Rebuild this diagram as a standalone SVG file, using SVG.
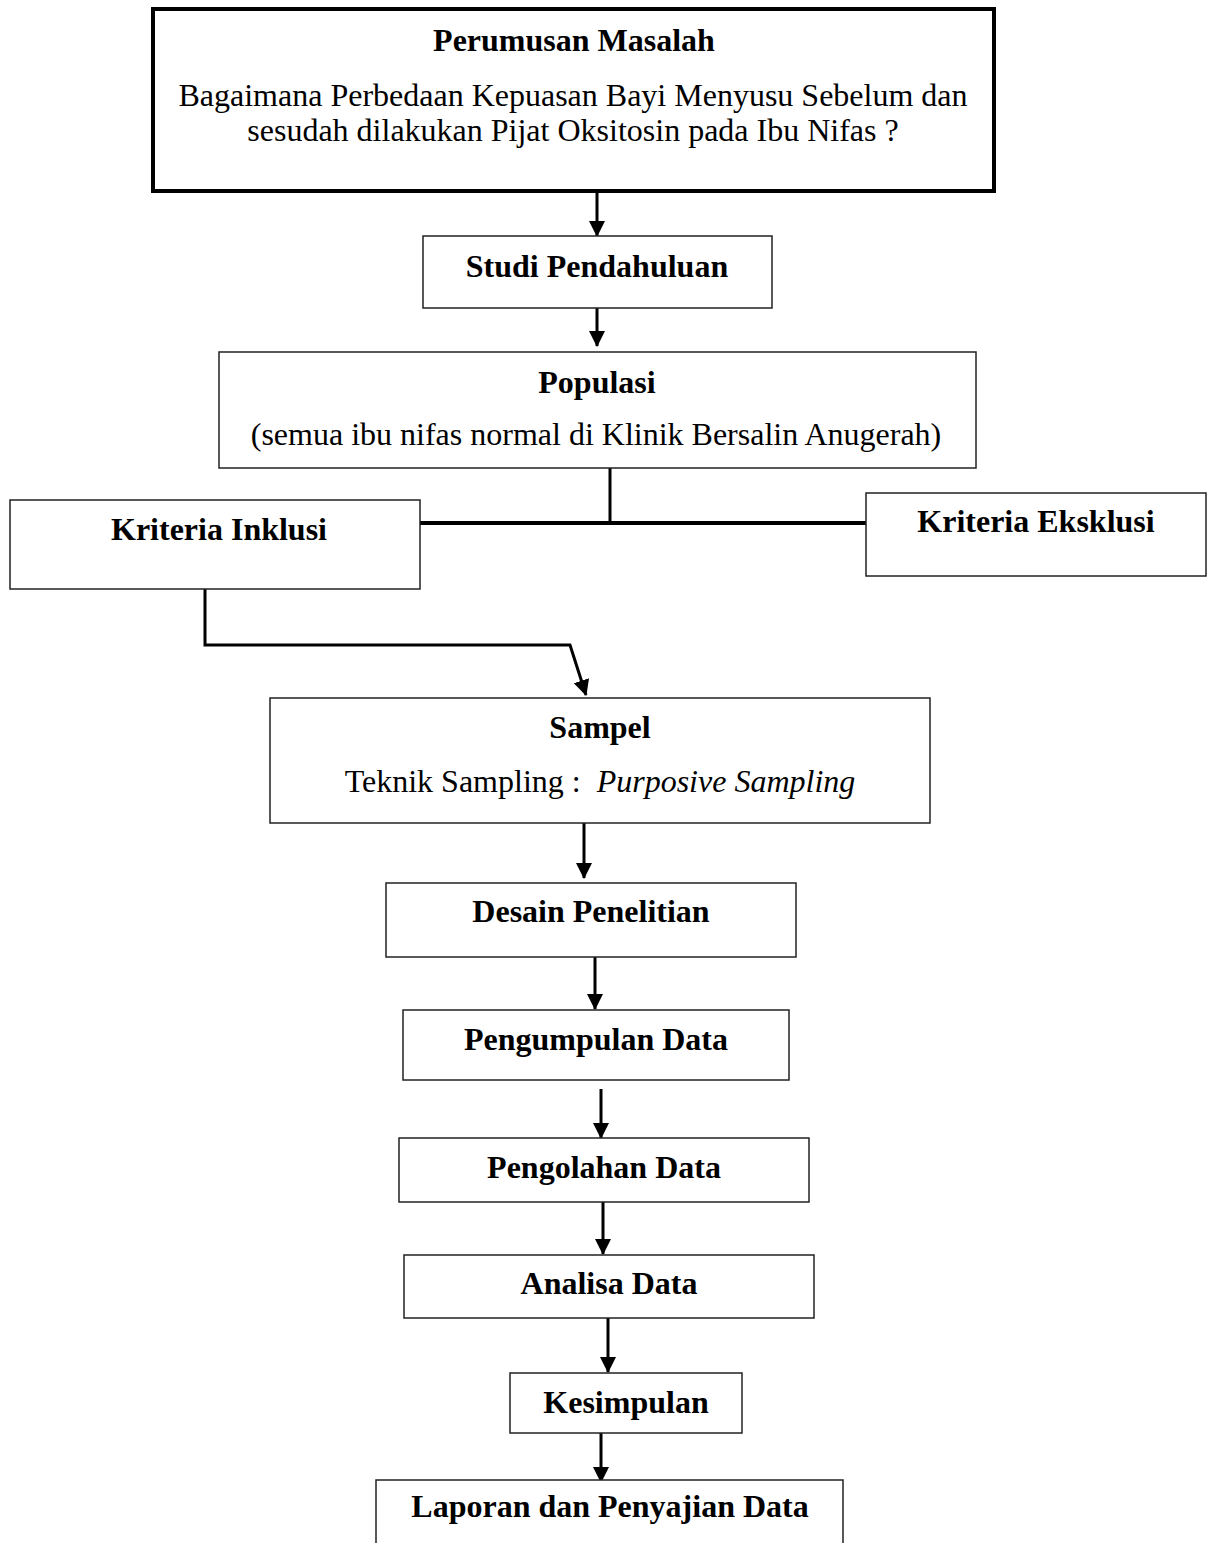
<svg xmlns="http://www.w3.org/2000/svg" width="1210" height="1543" viewBox="0 0 1210 1543">
<style>
.box{fill:#fff;stroke:#222;stroke-width:1.5}
.bold{font-family:"Liberation Serif","Times New Roman",serif;font-weight:bold;font-size:32px;fill:#000;text-anchor:middle}
.reg{font-family:"Liberation Serif","Times New Roman",serif;font-size:32px;fill:#000;text-anchor:middle}
.conn{fill:none;stroke:#000;stroke-width:3}
</style>
<defs>
<marker id="ah" markerUnits="userSpaceOnUse" markerWidth="18" markerHeight="18" refX="15" refY="8" orient="auto">
<path d="M0,0 L16,8 L0,16 z" fill="#000"/>
</marker>
</defs>
<rect width="1210" height="1543" fill="#fff"/>
<g id="connectors">
<line class="conn" x1="597" y1="191" x2="597" y2="236" marker-end="url(#ah)"/>
<line class="conn" x1="597" y1="308" x2="597" y2="346" marker-end="url(#ah)"/>
<line class="conn" x1="610" y1="468" x2="610" y2="523"/>
<line class="conn" x1="420" y1="523" x2="866" y2="523" style="stroke-width:4"/>
<polyline class="conn" points="205,589 205,645 570,645 586,695" marker-end="url(#ah)"/>
<line class="conn" x1="584" y1="823" x2="584" y2="878" marker-end="url(#ah)"/>
<line class="conn" x1="595" y1="957" x2="595" y2="1009" marker-end="url(#ah)"/>
<line class="conn" x1="601" y1="1089" x2="601" y2="1138" marker-end="url(#ah)"/>
<line class="conn" x1="603" y1="1199" x2="603" y2="1254" marker-end="url(#ah)"/>
<line class="conn" x1="608" y1="1318" x2="608" y2="1372" marker-end="url(#ah)"/>
<line class="conn" x1="601" y1="1432" x2="601" y2="1482" marker-end="url(#ah)"/>
</g>
<g id="perumusan">
<rect x="153" y="9" width="841" height="182" fill="#fff" stroke="#000" stroke-width="4"/>
<text class="bold" x="574" y="51">Perumusan Masalah</text>
<text class="reg" x="573" y="106">Bagaimana Perbedaan Kepuasan Bayi Menyusu Sebelum dan</text>
<text class="reg" x="573" y="141">sesudah dilakukan Pijat Oksitosin pada Ibu Nifas ?</text>
</g>
<g id="studi">
<rect class="box" x="423" y="236" width="349" height="72"/>
<text class="bold" x="597" y="277">Studi Pendahuluan</text>
</g>
<g id="populasi">
<rect class="box" x="219" y="352" width="757" height="116"/>
<text class="bold" x="597" y="393">Populasi</text>
<text class="reg" x="596" y="445">(semua ibu nifas normal di Klinik Bersalin Anugerah)</text>
</g>
<g id="inklusi">
<rect class="box" x="10" y="500" width="410" height="89"/>
<text class="bold" x="219" y="540">Kriteria Inklusi</text>
</g>
<g id="eksklusi">
<rect class="box" x="866" y="493" width="340" height="83"/>
<text class="bold" x="1036" y="532">Kriteria Eksklusi</text>
</g>
<g id="sampel">
<rect class="box" x="270" y="698" width="660" height="125"/>
<text class="bold" x="600" y="738">Sampel</text>
<text class="reg" x="600" y="792">Teknik Sampling :&#160; <tspan font-style="italic">Purposive Sampling</tspan></text>
</g>
<g id="desain">
<rect class="box" x="386" y="883" width="410" height="74"/>
<text class="bold" x="591" y="922">Desain Penelitian</text>
</g>
<g id="pengumpulan">
<rect class="box" x="403" y="1010" width="386" height="70"/>
<text class="bold" x="596" y="1050">Pengumpulan Data</text>
</g>
<g id="pengolahan">
<rect class="box" x="399" y="1138" width="410" height="64"/>
<text class="bold" x="604" y="1178">Pengolahan Data</text>
</g>
<g id="analisa">
<rect class="box" x="404" y="1255" width="410" height="63"/>
<text class="bold" x="609" y="1294">Analisa Data</text>
</g>
<g id="kesimpulan">
<rect class="box" x="510" y="1373" width="232" height="60"/>
<text class="bold" x="626" y="1413">Kesimpulan</text>
</g>
<g id="laporan">
<rect class="box" x="376" y="1480" width="467" height="90"/>
<text class="bold" x="610" y="1517">Laporan dan Penyajian Data</text>
</g>
</svg>
